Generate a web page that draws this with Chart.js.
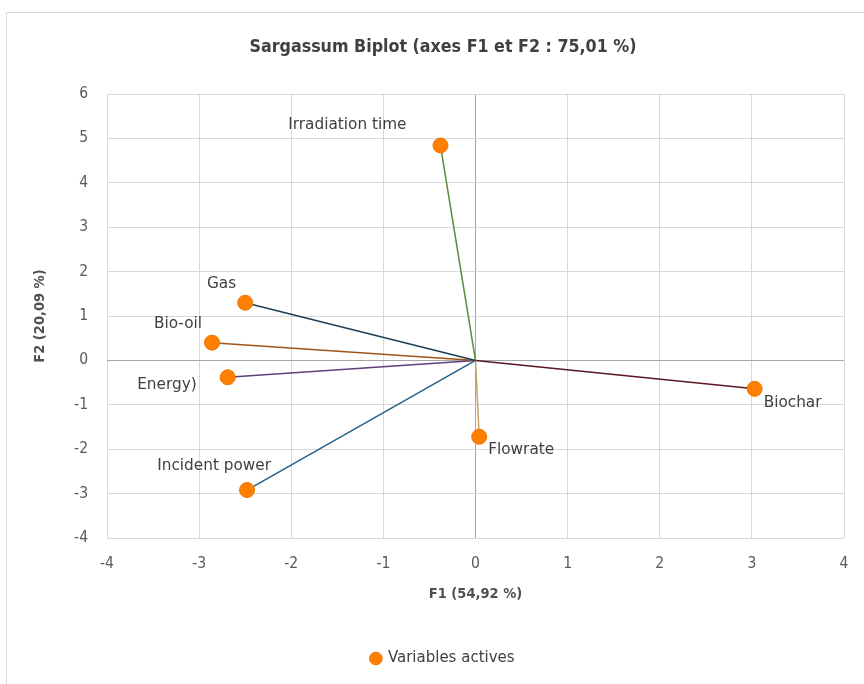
<!DOCTYPE html>
<html><head><meta charset="utf-8">
<script src="https://cdn.jsdelivr.net/npm/chart.js@4"></script>
<style>
html,body{margin:0;padding:0;background:#fff;overflow:hidden;width:864px;height:684px}
#frame{position:absolute;left:6px;top:12px;width:900px;height:720px;border:1px solid #d9d9d9;box-sizing:border-box}
#wrap{position:absolute;left:0;top:0;width:864px;height:684px}
</style></head><body>
<div id="frame"></div>
<div id="wrap"><canvas id="c" width="864" height="684"></canvas></div>
<script>
// ---- data ----
const variables = ['Irradiation time', 'Gas', 'Bio-oil', 'Energy)', 'Incident power', 'Flowrate', 'Biochar'];
const f1 = [-0.38, -2.50, -2.86, -2.69, -2.48, 0.04, 3.03];
const f2 = [4.84, 1.30, 0.40, -0.38, -2.92, -1.72, -0.64];
const xTicks = [-4, -3, -2, -1, 0, 1, 2, 3, 4];
const yTicks = [-4, -3, -2, -1, 0, 1, 2, 3, 4, 5, 6];
const seriesName = 'Variables actives';
const chartTitle = 'Sargassum Biplot (axes F1 et F2 : 75,01 %)';
const xTitle = 'F1 (54,92 %)';
const yTitle = 'F2 (20,09 %)';

// ---- styles ----
const lineColors = ['#5a8a3c', '#1d3e55', '#a0561a', '#5e3f78', '#22628a', '#c9a068', '#5a1620'];
const labelPlacement = [
  {align: 'right', dx: -34, dy: -21},
  {align: 'right', dx: -9, dy: -19},
  {align: 'right', dx: -10, dy: -19},
  {align: 'right', dx: -31, dy: 8},
  {align: 'right', dx: 24, dy: -24},
  {align: 'left', dx: 9, dy: 13},
  {align: 'left', dx: 9, dy: 14}
];
const narrow = '"DejaVu Sans Condensed", "Liberation Sans Narrow", sans-serif';
const labelFont = '"DejaVu Sans", sans-serif';

const labelPlugin = {
  id: 'varLabels',
  afterDatasetsDraw(chart) {
    const ctx = chart.ctx, xs = chart.scales.x, ys = chart.scales.y;
    ctx.save();
    ctx.font = '15.3px ' + labelFont;
    ctx.fillStyle = '#404040';
    ctx.textBaseline = 'middle';
    variables.forEach((name, i) => {
      const p = labelPlacement[i];
      ctx.textAlign = p.align;
      ctx.fillText(name, xs.getPixelForValue(f1[i]) + p.dx, ys.getPixelForValue(f2[i]) + p.dy);
    });
    ctx.restore();
  }
};

const lineSets = variables.map((name, i) => ({
  label: name,
  data: [{x: 0, y: 0}, {x: f1[i], y: f2[i]}],
  showLine: true,
  borderColor: lineColors[i],
  borderWidth: 1.5,
  pointRadius: 0,
  pointHoverRadius: 0,
  order: 1
}));
const pointSet = {
  label: seriesName,
  data: f1.map((x, i) => ({x: x, y: f2[i]})),
  showLine: false,
  pointRadius: 7.5,
  pointHoverRadius: 7.5,
  backgroundColor: '#ff8000',
  borderColor: '#f07500',
  borderWidth: 1,
  order: 0
};

const gridColor = (c) => (c.tick && c.tick.value === 0) ? '#a6a6a6' : '#d9d9d9';

new Chart(document.getElementById('c'), {
  type: 'scatter',
  data: {datasets: [pointSet].concat(lineSets)},
  options: {
    responsive: false,
    devicePixelRatio: 1,
    animation: false,
    events: [],
    layout: {padding: {left: 42, right: 20, top: 0, bottom: 8}},
    plugins: {
      tooltip: {enabled: false},
      title: {
        display: true,
        text: chartTitle,
        color: '#404040',
        font: {family: narrow, size: 17.7, weight: 'bold'},
        padding: {top: 36.4, bottom: 36.4}
      },
      legend: {
        position: 'bottom',
        labels: {
          filter: (item) => item.text === seriesName,
          usePointStyle: true,
          pointStyle: 'circle',
          boxWidth: 9,
          boxHeight: 9,
          padding: 10,
          color: '#404040',
          font: {family: labelFont, size: 15}
        }
      }
    },
    scales: {
      x: {
        type: 'linear',
        min: xTicks[0],
        max: xTicks[xTicks.length - 1],
        afterBuildTicks: (s) => { s.ticks = xTicks.map(v => ({value: v})); },
        afterFit: (s) => { s.height = 103; s.paddingLeft = 0; s.paddingRight = 0; },
        grid: {color: gridColor, lineWidth: 1, drawTicks: false},
        border: {display: false},
        ticks: {padding: 17, color: '#595959', font: {family: narrow, size: 15.5}, callback: (v) => String(v)},
        title: {display: true, text: xTitle, color: '#505050', font: {family: narrow, size: 14.5, weight: 'bold'}, padding: {top: 0, bottom: 38.3}}
      },
      y: {
        type: 'linear',
        min: yTicks[0],
        max: yTicks[yTicks.length - 1],
        afterBuildTicks: (s) => { s.ticks = yTicks.map(v => ({value: v})); },
        afterFit: (s) => { s.width = 65; },
        grid: {color: gridColor, lineWidth: 1, drawTicks: false},
        border: {display: false},
        ticks: {padding: 19, color: '#595959', font: {family: narrow, size: 15.5}, callback: (v) => String(v)},
        title: {display: true, text: yTitle, color: '#505050', font: {family: narrow, size: 14.5, weight: 'bold'}, padding: {top: -10.7, bottom: 0}}
      }
    }
  },
  plugins: [labelPlugin]
});
</script></body></html>
